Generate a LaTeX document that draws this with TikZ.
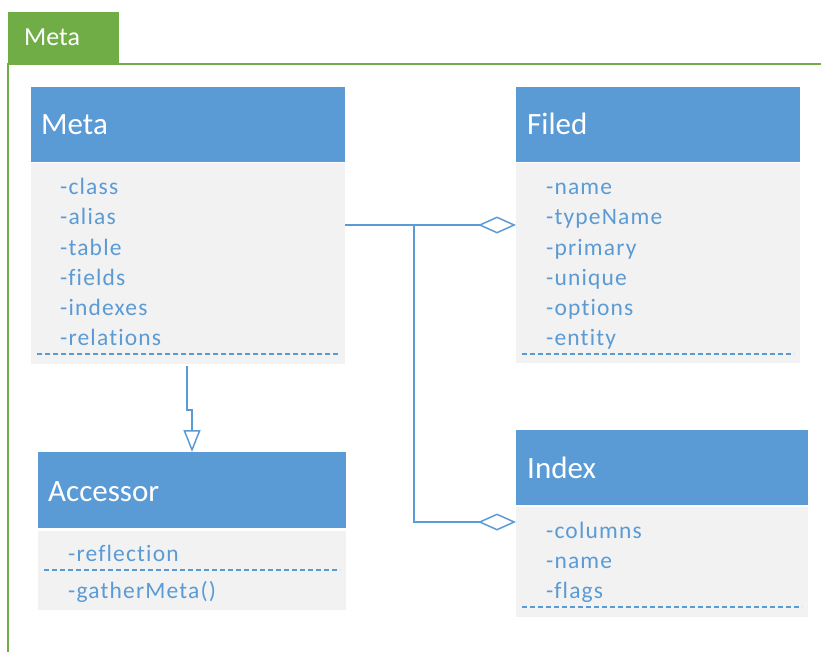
\documentclass[tikz,border=0pt]{standalone}
\usepackage{fontspec}
\setmainfont{Carlito}
\newfontfamily\attrfont[LetterSpace=5,Ligatures=NoCommon]{Carlito}
\usetikzlibrary{arrows.meta}
\definecolor{hblue}{HTML}{5B9BD5}
\definecolor{bgray}{HTML}{F2F2F2}
\definecolor{fgreen}{HTML}{70AD47}
\begin{document}
\begin{tikzpicture}[x=1pt,y=-1pt,
  hdr/.style={fill=hblue, draw=none, inner sep=0pt, anchor=north west},
  bodybox/.style={fill=bgray, draw=none, inner sep=0pt, anchor=north west},
  htext/.style={text=white, font=\fontsize{31}{31}\selectfont, anchor=base west, inner sep=0pt},
  tabtext/.style={text=white, font=\fontsize{26}{26}\selectfont, anchor=base west, inner sep=0pt},
  atext/.style={text=hblue, font=\attrfont\fontsize{23.5}{23.5}\selectfont, anchor=base west, inner sep=0pt},
  sepline/.style={draw=hblue, dash pattern=on 5pt off 3pt, line width=1.2pt},
  conn/.style={draw=hblue, line width=1.5pt},
  agg/.style={-{Diamond[open,fill=white,length=38pt,width=17pt]}},
  gen/.style={-{Triangle[open,fill=white,length=22pt,width=17pt]}}]
\useasboundingbox (0,0) rectangle (821,651);
% frame and tab
\draw[fgreen, line width=2pt] (7.5,652) -- (7.5,63.5) -- (822,63.5);
\node[fill=fgreen, anchor=north west, minimum width=111pt, minimum height=51pt, inner sep=0pt] (tab) at (8,12) {};
\node[tabtext] (tabtxt) at (24,45) {Meta};
% Meta class
\node[hdr, minimum width=314pt, minimum height=75pt] (metahead) at (31,87) {};
\node[bodybox, minimum width=314pt, minimum height=201pt] (metabody) at (31,163) {};
\node[htext] (metatitle) at (41,134) {Meta};
\node[atext] (m1) at (60,194) {-class};
\node[atext] (m2) at (60,224) {-alias};
\node[atext] (m3) at (60,255) {-table};
\node[atext] (m4) at (60,285) {-fields};
\node[atext] (m5) at (60,315) {-indexes};
\node[atext] (m6) at (60,345) {-relations};
\draw[sepline] (37,354) -- (340,354);
% Filed class
\node[hdr, minimum width=284pt, minimum height=75pt] (filedhead) at (516,87) {};
\node[bodybox, minimum width=284pt, minimum height=200pt] (filedbody) at (516,163) {};
\node[htext] (filedtitle) at (527,134) {Filed};
\node[atext] (f1) at (546,194) {-name};
\node[atext] (f2) at (546,224) {-typeName};
\node[atext] (f3) at (546,255) {-primary};
\node[atext] (f4) at (546,285) {-unique};
\node[atext] (f5) at (546,315) {-options};
\node[atext] (f6) at (546,345) {-entity};
\draw[sepline] (522,354) -- (794,354);
% Index class
\node[hdr, minimum width=292pt, minimum height=75pt] (indexhead) at (516,430) {};
\node[bodybox, minimum width=292pt, minimum height=110pt] (indexbody) at (516,507) {};
\node[htext] (indextitle) at (527,478) {Index};
\node[atext] (i1) at (546,538) {-columns};
\node[atext] (i2) at (546,568) {-name};
\node[atext] (i3) at (546,598) {-flags};
\draw[sepline] (522,607) -- (802,607);
% Accessor class
\node[hdr, minimum width=308pt, minimum height=76pt] (acchead) at (38,452) {};
\node[bodybox, minimum width=308pt, minimum height=79pt] (accbody) at (38,531) {};
\node[htext] (acctitle) at (48,501) {Accessor};
\node[atext] (a1) at (68,561) {-reflection};
\draw[sepline] (44,570) -- (340,570);
\node[atext] (a2) at (68,598) {-gatherMeta()};
% connectors
\coordinate (br) at (414,225);
\draw[conn, agg] (metabody.north east |- br) -- (filedbody.west |- br);
\draw[conn, agg] (br) |- (indexbody.west |- 0,522);
\coordinate (g1) at (187,410);
\coordinate (g2) at (192,410);
\draw[conn, gen] ([yshift=-2pt]metabody.south -| g1) -- (g1) -- (g2) -- (acchead.north -| g2);
\end{tikzpicture}
\end{document}
